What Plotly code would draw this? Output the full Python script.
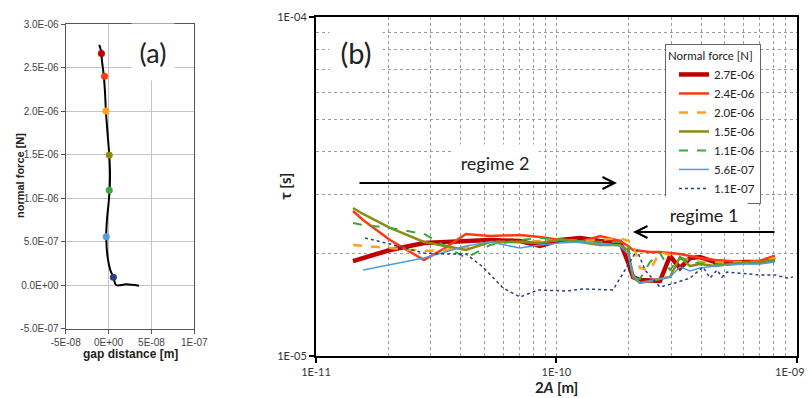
import plotly.graph_objects as go

# ---------------- Panel (a) data ----------------
gap_curve = [-1.10e-8, -0.90e-8, -0.78e-8, -0.59e-8, -0.43e-8, -0.31e-8, -0.12e-8, 0.08e-8,
             0.17e-8, 0.12e-8, 0.0, -0.19e-8, -0.27e-8, -0.12e-8, 0.20e-8, 0.56e-8, 0.88e-8,
             2.06e-8, 3.55e-8]
force_curve = [2.759e-6, 2.701e-6, 2.586e-6, 2.433e-6, 2.241e-6, 2.0e-6, 1.744e-6, 1.494e-6,
               1.284e-6, 1.089e-6, 0.939e-6, 0.747e-6, 0.555e-6, 0.325e-6, 0.172e-6, 0.089e-6,
               0.0, 0.008e-6, -0.008e-6]
gap_points = [-0.83e-8, -0.47e-8, -0.31e-8, 0.08e-8, 0.08e-8, -0.27e-8, 0.56e-8]
force_points = [2.66e-6, 2.40e-6, 2.0e-6, 1.494e-6, 1.089e-6, 0.555e-6, 0.089e-6]

# ---------------- Panel (b) data ----------------
labels = ["2.7E-06", "2.4E-06", "2.0E-06", "1.5E-06", "1.1E-06", "5.6E-07", "1.1E-07"]
colors = ["#c00000", "#ff3a12", "#ffa020", "#8c8c12", "#3aa83a", "#4a9fdc", "#2a4080"]

amp = [1.425e-11, 1.569e-11, 2.032e-11, 2.814e-11, 3.440e-11, 4.207e-11, 5.294e-11, 7.057e-11,
       8.548e-11, 1.035e-10, 1.254e-10, 1.518e-10, 1.839e-10, 1.986e-10, 2.083e-10, 2.227e-10,
       2.451e-10, 2.697e-10, 2.969e-10, 3.267e-10, 3.596e-10, 3.957e-10, 4.567e-10, 5.274e-10,
       6.087e-10, 7.029e-10, 8.116e-10]

tau_27 = [1.906, 1.945, 2.054, 2.154, 2.169, 2.184, 2.199, 2.184, 2.111, 2.199, 2.229, 2.184,
          2.169, 1.893, 1.710, 1.675, 1.664, 1.664, 1.972, 1.817, 1.945, 1.959, 1.893, 1.880,
          1.893, 1.893, 1.959]
tau_24 = [2.677, 2.519, 2.199, 1.919, 2.082, 2.291, 2.259, 2.275, 2.244, 2.199, 2.169, 2.259,
          2.184, 2.111, 2.054, 2.040, 2.026, 2.026, 2.012, 1.999, 1.972, 1.945, 1.919, 1.906,
          1.893, 1.906, 1.972]
tau_20 = [2.125, 2.111, 2.082, 2.040, 2.054, 2.096, 2.169, 2.169, 2.184, 2.199, 2.184, 2.199,
          2.229, 2.184, 2.169, 1.817, 1.793, 2.026, 1.985, 1.945, 1.919, 1.893, 1.893, 1.880,
          1.893, 1.893, 1.945]
tau_15 = [2.733, 2.624, 2.386, 2.169, 2.111, 2.054, 2.169, 2.169, 2.154, 2.214, 2.169, 2.125,
          2.125, 2.054, 1.710, 1.642, 1.664, 1.687, 1.710, 1.959, 1.842, 1.867, 1.842, 1.867,
          1.880, 1.893, 1.919]
tau_11 = [2.468, 2.435, 2.386, 2.291, 2.111, 1.945, 2.125, 2.199, 2.229, 2.199, 2.184, 2.169,
          2.169, 2.140, 1.698, 1.687, 1.893, 2.012, 1.793, 1.959, 1.893, 1.880, 1.855, 1.867,
          1.880, 1.880, 1.906]
tau_056 = [None, 1.793, 1.855, 1.945, 2.026, 2.111, 2.169, 2.082, 2.125, 2.154, 2.169, 2.140,
           2.111, 1.999, 1.733, 1.642, 1.664, 1.687, 1.710, 1.830, 1.781, 1.817, 1.842, 1.855,
           1.867, 1.867, 1.893]

amp_011 = [1.599e-11, 2.032e-11, 2.814e-11, 3.440e-11, 4.207e-11, 4.951e-11, 5.997e-11,
           7.057e-11, 8.386e-11, 1.107e-10, 1.290e-10, 1.719e-10, 1.929e-10, 2.164e-10,
           2.336e-10, 2.697e-10, 3.114e-10, 3.596e-10, 4.073e-10, 4.355e-10, 4.657e-10,
           4.886e-10, 5.125e-10, 5.803e-10, 7.029e-10, 8.116e-10, 9.104e-10, 9.643e-10]
tau_011 = [2.229, 2.140, 2.012, 1.999, 1.999, 1.830, 1.587, 1.493, 1.566, 1.555, 1.577, 1.566,
           1.793, 2.054, 1.793, 1.598, 1.642, 1.698, 1.830, 1.698, 1.793, 1.710, 1.769, 1.757,
           1.733, 1.733, 1.698, 1.710]
tau_unit = 1e-5

series_x = [amp, amp, amp, amp, amp, amp, amp_011]
series_y = [tau_27, tau_24, tau_20, tau_15, tau_11, tau_056, tau_011]
widths = [4.5, 2.5, 2.5, 2.5, 2, 1.5, 1.5]
dashes = ["solid", "solid", "dash", "solid", "dash", "solid", "dot"]

W, H = 809, 398
def px(x):
    return x / W
def py(y):
    return 1 - y / H

fig = go.Figure()

# panel (a)
fig.add_trace(go.Scatter(x=gap_curve, y=force_curve, mode="lines",
                         line=dict(color="black", width=2, shape="spline"),
                         showlegend=False, xaxis="x", yaxis="y", hoverinfo="skip"))
fig.add_trace(go.Scatter(x=gap_points, y=force_points, mode="markers",
                         marker=dict(color=colors, size=7),
                         showlegend=False, xaxis="x", yaxis="y"))

# panel (b)
for lab, col, xs, ys, w, d in zip(labels, colors, series_x, series_y, widths, dashes):
    fig.add_trace(go.Scatter(
        x=xs, y=[None if v is None else v * tau_unit for v in ys], mode="lines",
        name=lab, line=dict(color=col, width=w, dash=d),
        xaxis="x2", yaxis="y2"))

minor_x = [m * 10.0 ** e for e in (-11, -10) for m in range(2, 10)] + [1e-10]
minor_y = [m * 1e-5 for m in range(2, 10)]

tickfont_a = dict(family="Liberation Sans", size=10, color="#444")
tickfont_b = dict(family="Lato", size=11, color="#333")

fig.update_layout(
    width=W, height=H, margin=dict(l=0, r=0, t=0, b=0),
    paper_bgcolor="white", plot_bgcolor="white",
    xaxis=dict(domain=[px(65.7), px(194.3)], range=[-5e-8, 1e-7], anchor="y", automargin=False,
               tickvals=[-5e-8, 0, 5e-8, 1e-7], ticktext=["-5E-08", "0E+00", "5E-08", "1E-07"],
               showgrid=True, gridcolor="#c4c4c4", gridwidth=1, zeroline=False,
               showline=True, linecolor="#555", linewidth=1, mirror=True,
               ticks="outside", ticklen=4, tickcolor="#555", tickfont=tickfont_a),
    yaxis=dict(domain=[py(328.5), py(24)], range=[-5e-7, 3e-6], anchor="x", automargin=False,
               tickvals=[-5e-7, 0, 5e-7, 1e-6, 1.5e-6, 2e-6, 2.5e-6, 3e-6],
               ticktext=["-5.0E-07", "0.0E+00", "5.0E-07", "1.0E-06", "1.5E-06", "2.0E-06",
                         "2.5E-06", "3.0E-06"],
               showgrid=True, gridcolor="#c4c4c4", gridwidth=1, zeroline=False,
               showline=True, linecolor="#555", linewidth=1, mirror=True,
               ticks="outside", ticklen=4, tickcolor="#555", tickfont=tickfont_a),
    xaxis2=dict(domain=[px(316), px(796.8)], type="log", range=[-11.00001, -8.99999],
                anchor="y2", automargin=False,
                tickvals=[1e-11, 1e-10, 1e-9], ticktext=["1E-11", "1E-10", ""],
                showgrid=True, gridcolor="#9a9a9a", griddash="dot", gridwidth=1,
                minor=dict(tickvals=minor_x, showgrid=True, gridcolor="#9a9a9a",
                           griddash="dot", gridwidth=1, ticks=""),
                zeroline=False, showline=True, linecolor="black", linewidth=2, mirror=True,
                ticks="outside", ticklen=5, tickcolor="black", tickwidth=1.5,
                tickfont=tickfont_b),
    yaxis2=dict(domain=[py(356), py(17)], type="log", range=[-5.00001, -3.99999], anchor="x2",
                automargin=False, ticklabeloverflow="allow",
                tickvals=[1e-5, 1e-4], ticktext=["1E-05", "1E-04"],
                showgrid=True, gridcolor="#9a9a9a", griddash="dot", gridwidth=1,
                minor=dict(tickvals=minor_y, showgrid=True, gridcolor="#9a9a9a",
                           griddash="dot", gridwidth=1, ticks=""),
                zeroline=False, showline=True, linecolor="black", linewidth=2, mirror=True,
                ticks="outside", ticklen=5, tickcolor="black", tickwidth=1.5,
                tickfont=tickfont_b),
    legend=dict(x=px(665), y=py(44), xanchor="left", yanchor="top",
                bgcolor="white", bordercolor="#666", borderwidth=1,
                font=dict(family="Lato", size=11.5, color="#222"),
                title=dict(text="Normal force [N]", font=dict(family="Lato", size=11.5, color="#222")),
                tracegroupgap=0, itemwidth=30, indentation=8),
    showlegend=True,
)

ann = []
# right-most x tick label, kept inside the page edge
ann.append(dict(x=px(807), y=py(371), xref="paper", yref="paper", text="1E-09", showarrow=False,
                font=tickfont_b, xanchor="right", yanchor="middle"))
ann.append(dict(x=px(153), y=py(52), xref="paper", yref="paper", text="(a)", showarrow=False,
                font=dict(family="Lato", size=27, color="#222"), bgcolor="white",
                width=40, height=54, xanchor="center", yanchor="middle"))
ann.append(dict(x=px(356), y=py(52.5), xref="paper", yref="paper", text="(b)", showarrow=False,
                font=dict(family="Lato", size=29, color="#222"), bgcolor="white",
                width=50, height=54, xanchor="center", yanchor="middle"))
ann.append(dict(x=px(495), y=py(163), xref="paper", yref="paper", text="regime 2", showarrow=False,
                font=dict(family="Lato", size=18, color="#222"), bgcolor="white",
                width=84, height=34, xanchor="center", yanchor="middle"))
ann.append(dict(x=px(704), y=py(215), xref="paper", yref="paper", text="regime 1", showarrow=False,
                font=dict(family="Lato", size=18, color="#222"), bgcolor="white",
                width=84, height=34, xanchor="center", yanchor="middle"))
# arrows (tail offsets in pixels)
ann.append(dict(x=px(617), y=py(183), ax=358 - 617, ay=0, xref="paper", yref="paper",
                axref="pixel", ayref="pixel", text="", showarrow=True, arrowhead=5,
                arrowsize=1.3, arrowwidth=1.8, arrowcolor="black"))
ann.append(dict(x=px(633), y=py(232), ax=776 - 633, ay=0, xref="paper", yref="paper",
                axref="pixel", ayref="pixel", text="", showarrow=True, arrowhead=5,
                arrowsize=1.3, arrowwidth=1.8, arrowcolor="black"))
# axis titles
ann.append(dict(x=px(284), y=py(186.5), xref="paper", yref="paper", text="<b>τ [s]</b>",
                showarrow=False, textangle=-90, font=dict(family="Lato", size=15, color="#222"),
                xanchor="center", yanchor="middle"))
ann.append(dict(x=px(556), y=py(387), xref="paper", yref="paper", text="<b>2<i>A</i> [m]</b>",
                showarrow=False, font=dict(family="Lato", size=15, color="#222"),
                xanchor="center", yanchor="middle"))
ann.append(dict(x=px(20), y=py(176), xref="paper", yref="paper", text="<b>normal force [N]</b>",
                showarrow=False, textangle=-90,
                font=dict(family="Liberation Sans", size=11, color="#222"),
                xanchor="center", yanchor="middle"))
ann.append(dict(x=px(130), y=py(354), xref="paper", yref="paper", text="<b>gap distance [m]</b>",
                showarrow=False, font=dict(family="Liberation Sans", size=12, color="#222"),
                xanchor="center", yanchor="middle"))
fig.update_layout(annotations=ann)

fig.write_html("out.html")
